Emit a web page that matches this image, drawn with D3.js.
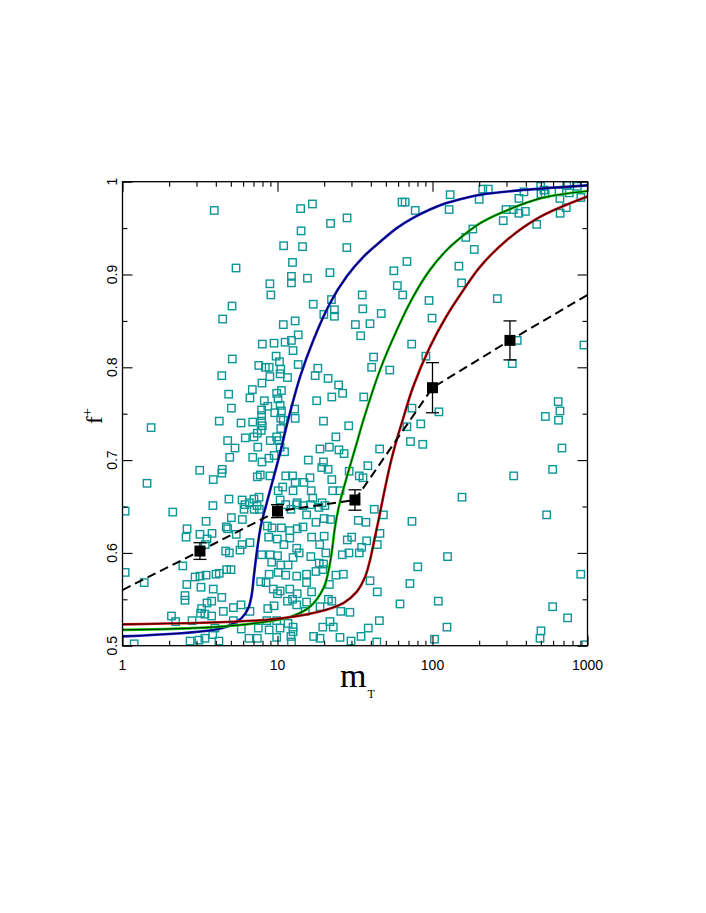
<!DOCTYPE html>
<html>
<head>
<meta charset="utf-8">
<script src="https://cdn.jsdelivr.net/npm/d3@7"></script>
<style>
  body { margin: 0; background: #fff; }
  svg { display: block; }
</style>
</head>
<body>
<svg id="svg" width="706" height="913"></svg>
<script>
const xTicks = [1, 10, 100, 1000];
const xTickLabels = ["1", "10", "100", "1000"];
const xMinor = [2, 3, 4, 5, 6, 7, 8, 9, 20, 30, 40, 50, 60, 70, 80, 90, 200, 300, 400, 500, 600, 700, 800, 900];
const yTicks = [0.5, 0.6, 0.7, 0.8, 0.9, 1];
const yTickLabels = ["0.5", "0.6", "0.7", "0.8", "0.9", "1"];
const yMinor = [0.55, 0.65, 0.75, 0.85, 0.95];

// scatter of individual systems [m_T, f+]
const scatter = [
  [1.04, 0.645], [1.04, 0.579], [1.19, 0.502], [1.38, 0.568], [1.44, 0.675], [1.53, 0.735],
  [2.07, 0.532], [2.11, 0.644], [2.20, 0.526],
  [3.91, 0.969], [16.8, 0.976], [14.1, 0.971], [28.1, 0.961], [22.0, 0.955], [14.2, 0.947],
  [10.96, 0.931], [14.5, 0.930], [28.0, 0.929], [12.5, 0.913], [5.40, 0.907], [21.8, 0.902],
  [12.3, 0.898], [15.6, 0.896], [12.3, 0.891], [8.93, 0.890], [9.06, 0.878], [17.0, 0.868],
  [22.3, 0.873], [19.9, 0.857], [23.3, 0.862], [23.3, 0.855],
  [5.09, 0.866], [4.43, 0.852], [10.9, 0.846], [13.0, 0.850], [13.6, 0.835], [7.98, 0.825],
  [9.5, 0.826], [11.2, 0.827], [12.3, 0.829], [12.6, 0.818], [5.11, 0.809], [9.8, 0.812],
  [10.3, 0.806], [13.6, 0.803], [7.57, 0.802], [8.35, 0.800], [8.83, 0.800], [10.5, 0.798],
  [4.37, 0.791], [8.93, 0.790], [10.4, 0.793], [11.6, 0.789], [7.94, 0.783], [6.88, 0.776],
  [4.84, 0.771], [6.64, 0.767], [8.22, 0.764], [9.88, 0.772], [10.6, 0.775], [10.07, 0.766],
  [8.66, 0.758], [10.4, 0.759], [5.04, 0.756], [7.90, 0.754], [9.6, 0.751], [12.9, 0.755],
  [7.90, 0.748], [10.6, 0.753], [4.21, 0.742], [5.82, 0.740], [6.92, 0.741], [7.90, 0.742],
  [7.98, 0.737], [10.5, 0.745], [10.9, 0.743], [13.0, 0.745], [7.41, 0.729], [7.85, 0.732],
  [10.5, 0.734], [4.77, 0.721], [6.20, 0.724], [7.05, 0.725], [8.98, 0.721], [9.88, 0.725],
  [10.2, 0.721], [5.32, 0.713], [7.46, 0.714], [10.4, 0.714], [11.1, 0.709], [4.92, 0.703],
  [6.92, 0.703], [8.80, 0.702], [9.52, 0.705], [7.94, 0.698], [3.15, 0.689], [4.40, 0.690],
  [4.37, 0.686], [3.85, 0.679], [7.41, 0.682], [7.74, 0.684], [8.93, 0.683], [11.3, 0.683],
  [12.5, 0.683],
  [10.8, 0.671], [10.1, 0.667], [4.86, 0.658], [5.91, 0.657], [6.17, 0.652], [6.58, 0.654],
  [7.05, 0.658], [7.60, 0.660], [3.83, 0.651], [7.38, 0.651], [6.08, 0.647], [7.08, 0.647],
  [7.63, 0.647], [10.4, 0.657], [11.3, 0.652], [12.2, 0.647], [13.3, 0.652], [5.04, 0.638],
  [5.93, 0.636], [3.46, 0.634], [2.61, 0.626], [4.67, 0.628], [4.77, 0.626], [8.60, 0.629],
  [9.23, 0.627], [10.6, 0.627], [12.0, 0.624], [13.4, 0.626], [3.16, 0.620], [3.51, 0.615],
  [3.78, 0.621], [5.42, 0.620], [8.77, 0.617], [9.97, 0.615], [12.0, 0.616], [2.57, 0.617],
  [2.45, 0.586], [3.42, 0.609], [5.91, 0.609], [6.64, 0.611], [11.0, 0.609], [13.3, 0.605],
  [4.63, 0.602], [4.89, 0.600], [5.73, 0.603], [7.90, 0.598], [8.98, 0.598], [10.0, 0.597],
  [12.6, 0.595], [13.8, 0.600], [9.17, 0.590], [10.5, 0.587], [11.7, 0.587], [4.70, 0.582],
  [5.01, 0.582], [4.21, 0.578], [4.01, 0.577], [3.46, 0.576], [3.16, 0.575], [2.94, 0.574],
  [8.83, 0.577], [10.1, 0.579], [11.3, 0.576], [13.3, 0.575], [7.79, 0.569], [8.43, 0.568],
  [2.60, 0.566], [3.21, 0.563], [3.85, 0.561], [9.39, 0.561], [10.4, 0.559], [10.0, 0.556],
  [12.0, 0.561], [2.53, 0.554], [2.53, 0.549], [4.37, 0.552], [3.76, 0.548], [3.51, 0.546],
  [3.24, 0.540], [3.19, 0.535], [4.47, 0.537], [5.19, 0.541], [5.82, 0.544], [6.64, 0.537],
  [8.66, 0.540], [9.50, 0.543], [11.6, 0.548], [13.3, 0.544], [2.81, 0.527], [3.40, 0.534],
  [3.76, 0.532], [5.19, 0.527], [8.53, 0.527], [9.88, 0.527], [11.7, 0.524], [3.95, 0.519],
  [5.84, 0.518], [7.52, 0.519], [8.83, 0.517], [10.4, 0.519], [12.6, 0.520], [3.82, 0.512],
  [6.55, 0.508], [7.41, 0.508], [2.73, 0.505], [4.19, 0.505], [9.88, 0.509], [12.2, 0.510],
  [12.3, 0.504], [3.11, 0.506], [3.40, 0.508],
  [35.5, 0.863], [46.7, 0.858], [31.8, 0.846], [39.5, 0.847], [34.4, 0.834], [73.4, 0.825],
  [18.2, 0.799], [17.5, 0.791], [21.2, 0.788], [24.8, 0.781], [26.3, 0.772], [22.4, 0.768],
  [17.9, 0.764], [41.7, 0.811], [40.5, 0.800], [53.0, 0.797], [36.0, 0.768], [19.8, 0.742],
  [28.8, 0.737], [23.8, 0.725], [18.8, 0.712], [21.6, 0.714], [24.9, 0.711], [26.9, 0.707],
  [45.6, 0.712], [73.7, 0.756], [68.4, 0.736], [72.1, 0.720], [15.8, 0.700], [19.8, 0.698],
  [19.3, 0.692], [21.2, 0.690], [38.3, 0.694], [29.0, 0.688], [16.2, 0.681], [22.4, 0.679],
  [33.7, 0.683], [35.6, 0.681],
  [13.0, 0.676], [14.8, 0.676], [12.6, 0.667], [16.9, 0.659], [16.5, 0.667], [22.7, 0.667],
  [25.3, 0.667], [13.4, 0.654], [14.6, 0.651], [16.4, 0.652], [18.5, 0.649], [19.4, 0.654],
  [20.2, 0.651], [22.0, 0.636], [20.0, 0.637], [17.7, 0.633], [15.4, 0.641], [14.6, 0.628],
  [16.6, 0.617], [20.0, 0.618], [18.7, 0.609], [20.5, 0.600], [16.4, 0.596], [18.6, 0.589],
  [19.8, 0.588], [19.6, 0.582], [17.7, 0.580], [15.4, 0.577], [15.4, 0.568], [16.6, 0.558],
  [13.4, 0.556], [12.5, 0.550], [15.4, 0.547], [21.3, 0.550], [22.4, 0.548], [18.8, 0.542],
  [15.1, 0.537], [25.6, 0.537], [29.3, 0.536], [23.8, 0.576], [26.6, 0.577], [21.6, 0.566],
  [33.2, 0.635], [37.2, 0.633], [42.1, 0.647], [48.2, 0.641], [30.1, 0.617], [28.2, 0.614],
  [26.2, 0.598], [28.9, 0.600], [33.7, 0.600], [34.9, 0.606], [37.6, 0.613], [44.0, 0.609],
  [45.8, 0.621], [39.5, 0.570], [44.0, 0.558], [61.7, 0.545], [45.4, 0.527], [38.5, 0.519],
  [34.6, 0.510], [43.7, 0.504], [29.8, 0.505], [25.3, 0.509], [21.8, 0.526], [22.9, 0.520],
  [19.6, 0.520], [17.1, 0.510], [18.8, 0.508], [12.6, 0.515], [71.5, 0.567],
  [84, 0.739], [86.5, 0.717], [73.7, 0.634], [80.3, 0.585], [109, 0.548], [125, 0.596],
  [124, 0.520], [103, 0.507], [155, 0.660], [334, 0.683], [684, 0.713], [596, 0.690],
  [545, 0.641], [905, 0.577], [596, 0.542], [744, 0.530], [501, 0.516], [494, 0.508], [975, 0.501],
  [130, 0.986], [211, 0.992], [229, 0.992], [200, 0.981], [128, 0.970], [63.6, 0.978],
  [66.6, 0.978], [77.4, 0.969], [286, 0.958], [361, 0.982], [389, 0.989], [397, 0.968],
  [361, 0.966], [332, 0.970], [298, 0.970], [499, 0.995], [524, 0.991], [501, 0.987],
  [533, 0.987], [655, 0.989], [664, 0.982], [734, 0.996], [763, 0.988], [860, 0.995],
  [906, 0.983], [729, 0.972], [666, 0.966], [470, 0.954], [182, 0.949], [164, 0.940],
  [186, 0.927], [68.4, 0.914], [56.3, 0.904], [148, 0.909], [154, 0.891], [59.3, 0.888],
  [64.2, 0.878], [35.2, 0.878], [95, 0.872], [99.3, 0.853], [262, 0.874], [90.6, 0.812],
  [352, 0.829], [327, 0.804], [948, 0.824], [110, 0.752], [647, 0.763], [664, 0.753],
  [535, 0.747], [650, 0.743]
];

// model curves [m_T, f+]
const curveBlue = [
  [1, 0.510], [3.84, 0.517], [4.94, 0.522], [5.88, 0.530], [6.47, 0.540], [6.82, 0.555],
  [7.05, 0.576], [7.41, 0.605], [7.83, 0.630], [8.43, 0.651], [9.39, 0.680], [10.4, 0.708],
  [11.7, 0.743], [14.0, 0.790], [17.0, 0.829], [21.8, 0.869], [28.0, 0.898], [35.8, 0.919],
  [45.8, 0.935], [58.8, 0.950], [75.0, 0.961], [96.3, 0.970], [123, 0.977], [158, 0.982],
  [202, 0.986], [384, 0.991], [1000, 0.996]
];
const curveGreen = [
  [1, 0.517], [3.84, 0.520], [8.55, 0.526], [12.05, 0.531], [16.2, 0.542], [19.8, 0.562],
  [21.3, 0.580], [22.4, 0.601], [23.5, 0.628], [25.3, 0.655], [28.6, 0.687], [32.4, 0.718],
  [35.8, 0.743], [45.8, 0.797], [58.8, 0.840], [75.0, 0.876], [96.3, 0.905], [123, 0.926],
  [158, 0.942], [202, 0.955], [273, 0.966], [494, 0.982], [1000, 0.990]
];
const curveRed = [
  [1, 0.523], [8.55, 0.528], [17.9, 0.536], [26.6, 0.546], [32.4, 0.558], [36.7, 0.574],
  [39.5, 0.592], [42.5, 0.617], [44.7, 0.634], [48.2, 0.661], [53.3, 0.695], [58.8, 0.722],
  [64.7, 0.745], [75.0, 0.779], [96.3, 0.822], [123, 0.855], [158, 0.883], [202, 0.908],
  [301, 0.937], [494, 0.962], [1000, 0.984]
];

// binned means with errors
const meanM = [3.16, 10, 31.6, 100, 316];
const meanF = [0.602, 0.645, 0.657, 0.778, 0.829];
const meanErr = [0.009, 0.007, 0.011, 0.027, 0.021];

// dashed trend through the means
const dashM = [1, 3.16, 10, 31.6, 100, 316, 1000];
const dashF = [0.560, 0.602, 0.645, 0.657, 0.778, 0.829, 0.878];

const padL = 122.5, padR = 587.5, padT = 181.7, padB = 645.7;
const x = d3.scaleLog().domain([1, 1000]).range([padL, padR]);
const y = d3.scaleLinear().domain([0.5, 1]).range([padB, padT]);

const svg = d3.select("#svg");

svg.append("defs").append("clipPath").attr("id", "plot")
  .append("rect")
  .attr("x", padL).attr("y", padT)
  .attr("width", padR - padL).attr("height", padB - padT);

const plot = svg.append("g").attr("clip-path", "url(#plot)");

// scatter squares
const sq = 7.4;
plot.append("g")
  .selectAll("rect")
  .data(scatter)
  .join("rect")
  .attr("x", d => x(d[0]) - sq / 2)
  .attr("y", d => y(d[1]) - sq / 2)
  .attr("width", sq)
  .attr("height", sq)
  .attr("fill", "none")
  .attr("stroke", "#0c9696")
  .attr("stroke-width", 1.4);

// model curves, bright edge with dark core
const line = d3.line()
  .x(d => x(d[0]))
  .y(d => y(d[1]))
  .curve(d3.curveCatmullRom.alpha(0.5));

[
  [curveBlue, "#1a1ad0", "#000050"],
  [curveGreen, "#10d010", "#003800"],
  [curveRed, "#d01010", "#3a0000"]
].forEach(([data, outer, inner]) => {
  plot.append("path")
    .attr("d", line(data))
    .attr("fill", "none")
    .attr("stroke", outer)
    .attr("stroke-width", 2.6);
  plot.append("path")
    .attr("d", line(data))
    .attr("fill", "none")
    .attr("stroke", inner)
    .attr("stroke-width", 1.1);
});

// dashed trend
plot.append("path")
  .attr("d", d3.line().x((d, i) => x(dashM[i])).y(d => y(d))(dashF))
  .attr("fill", "none")
  .attr("stroke", "#000")
  .attr("stroke-width", 2)
  .attr("stroke-dasharray", "9,5");

// means with error bars
const means = meanM.map((m, i) => ({ m, f: meanF[i], e: meanErr[i] }));
const mg = svg.append("g");
means.forEach(d => {
  const cx = x(d.m);
  const y0 = y(d.f - d.e), y1 = y(d.f + d.e);
  mg.append("line").attr("x1", cx).attr("x2", cx).attr("y1", y0).attr("y2", y1)
    .attr("stroke", "#000").attr("stroke-width", 1.3);
  [y0, y1].forEach(yy => {
    mg.append("line").attr("x1", cx - 6.5).attr("x2", cx + 6.5).attr("y1", yy).attr("y2", yy)
      .attr("stroke", "#000").attr("stroke-width", 1.3);
  });
  mg.append("rect")
    .attr("x", cx - 5.5).attr("y", y(d.f) - 5.5)
    .attr("width", 11).attr("height", 11)
    .attr("fill", "#000");
});

// axes, ticks pointing inward on all four sides
const axisStyle = g => {
  g.select(".domain").remove();
  g.selectAll("line").attr("stroke", "#000").attr("stroke-width", 1.1);
  g.selectAll("text").remove();
};
svg.append("g").attr("transform", `translate(0,${padB})`)
  .call(d3.axisBottom(x).tickValues(xTicks).tickSize(-10)).call(axisStyle);
svg.append("g").attr("transform", `translate(0,${padB})`)
  .call(d3.axisBottom(x).tickValues(xMinor).tickSize(-5)).call(axisStyle);
svg.append("g").attr("transform", `translate(0,${padT})`)
  .call(d3.axisTop(x).tickValues(xTicks).tickSize(-10)).call(axisStyle);
svg.append("g").attr("transform", `translate(0,${padT})`)
  .call(d3.axisTop(x).tickValues(xMinor).tickSize(-5)).call(axisStyle);
svg.append("g").attr("transform", `translate(${padL},0)`)
  .call(d3.axisLeft(y).tickValues(yTicks).tickSize(-10)).call(axisStyle);
svg.append("g").attr("transform", `translate(${padL},0)`)
  .call(d3.axisLeft(y).tickValues(yMinor).tickSize(-5)).call(axisStyle);
svg.append("g").attr("transform", `translate(${padR},0)`)
  .call(d3.axisRight(y).tickValues(yTicks).tickSize(-10)).call(axisStyle);
svg.append("g").attr("transform", `translate(${padR},0)`)
  .call(d3.axisRight(y).tickValues(yMinor).tickSize(-5)).call(axisStyle);

svg.append("rect")
  .attr("x", padL).attr("y", padT)
  .attr("width", padR - padL).attr("height", padB - padT)
  .attr("fill", "none").attr("stroke", "#000").attr("stroke-width", 1.3);

// tick labels
svg.append("g")
  .selectAll("text")
  .data(xTicks)
  .join("text")
  .attr("x", d => x(d))
  .attr("y", padB + 24)
  .attr("text-anchor", "middle")
  .attr("font-family", "'Liberation Sans', Arial, sans-serif")
  .attr("font-size", 14)
  .text((d, i) => xTickLabels[i]);

svg.append("g")
  .selectAll("text")
  .data(yTicks)
  .join("text")
  .attr("transform", d => `translate(${padL - 6},${y(d)}) rotate(-90)`)
  .attr("text-anchor", "middle")
  .attr("font-family", "'Liberation Sans', Arial, sans-serif")
  .attr("font-size", 14)
  .text((d, i) => yTickLabels[i]);

// axis titles
const xt = svg.append("text")
  .attr("x", 340)
  .attr("y", 687)
  .attr("font-family", "'Liberation Serif', 'Times New Roman', serif")
  .attr("font-size", 34)
  .text("m");
xt.append("tspan")
  .attr("dx", 1)
  .attr("dy", 11)
  .attr("font-size", 12)
  .text("T");

const yt = svg.append("text")
  .attr("transform", "translate(102,416) rotate(-90)")
  .attr("text-anchor", "middle")
  .attr("font-family", "'Liberation Serif', 'Times New Roman', serif")
  .attr("font-size", 23)
  .text("f");
yt.append("tspan")
  .attr("dy", -10)
  .attr("font-size", 15)
  .text("+");
</script>
</body>
</html>
